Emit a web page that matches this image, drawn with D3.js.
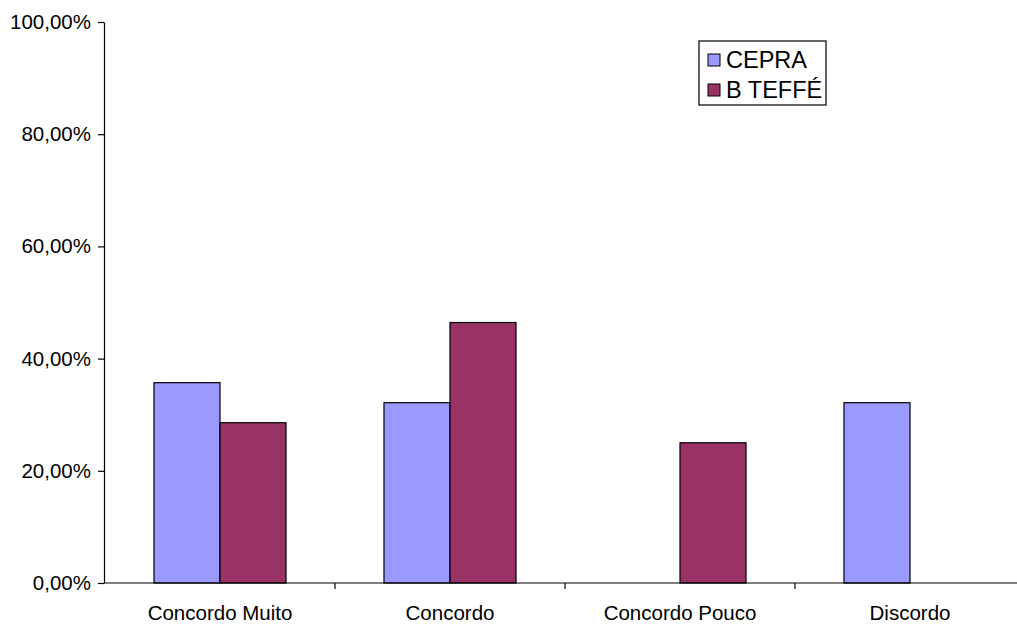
<!DOCTYPE html>
<html>
<head>
<meta charset="utf-8">
<script src="https://cdn.jsdelivr.net/npm/d3@7"></script>
<style>
  html, body { margin: 0; padding: 0; background: #fff; }
  svg { display: block; font-family: "Liberation Sans", Arial, sans-serif; }
</style>
</head>
<body>
<svg id="chart" width="1017" height="625"></svg>
<script>
// Survey answers per school
const categories = ["Concordo Muito", "Concordo", "Concordo Pouco", "Discordo"];
const seriesNames = ["CEPRA", "B TEFFÉ"];
const cepraValues = [0.3571, 0.3214, 0, 0.3214];
const teffeValues = [0.2857, 0.4643, 0.25, 0];
const yTicks = [0, 0.2, 0.4, 0.6, 0.8, 1.0];
const colors = ["#9999FF", "#993366"];

const svg = d3.select("#chart");
const axisX = 104;
const plot = { left: 105, top: 22, bottom: 583, right: 1025 };

const x0 = d3.scaleBand().domain(categories).range([plot.left, plot.right]).padding(0);
const x1 = d3.scaleBand().domain(seriesNames).range([0, x0.bandwidth()]).paddingOuter(0.742).paddingInner(0);
const y = d3.scaleLinear().domain([0, 1]).range([plot.bottom, plot.top]);
const color = d3.scaleOrdinal().domain(seriesNames).range(colors);

const fmt = v => d3.format(".2f")(v * 100).replace(".", ",") + "%";

const rows = categories.map((c, i) => ({
  category: c,
  values: [
    { series: seriesNames[0], value: cepraValues[i] },
    { series: seriesNames[1], value: teffeValues[i] }
  ]
}));

// Bars
const groups = svg.append("g").selectAll("g").data(rows).join("g")
  .attr("transform", d => `translate(${x0(d.category)},0)`);
groups.selectAll("rect").data(d => d.values.filter(v => v.value > 0)).join("rect")
  .attr("x", d => x1(d.series))
  .attr("width", x1.bandwidth())
  .attr("y", d => y(d.value))
  .attr("height", d => y(0) - y(d.value))
  .attr("fill", d => color(d.series))
  .attr("stroke", "#000")
  .attr("stroke-width", 1.2);

// Y axis
const yAxis = svg.append("g")
  .attr("transform", `translate(${axisX},0)`)
  .call(d3.axisLeft(y).tickValues(yTicks).tickFormat(fmt).tickSize(6).tickSizeOuter(0).tickPadding(7));
yAxis.select(".domain").attr("stroke", "#000").attr("stroke-width", 1.2);
yAxis.selectAll(".tick line").attr("stroke", "#000").attr("stroke-width", 1.2);
yAxis.selectAll(".tick text").attr("font-size", 20.5).attr("fill", "#000")
  .attr("font-family", "'Liberation Sans', Arial, sans-serif");

// X axis with ticks between categories
const xAxis = svg.append("g").attr("transform", `translate(0,${plot.bottom})`);
xAxis.append("line")
  .attr("x1", axisX).attr("x2", plot.right)
  .attr("stroke", "#000").attr("stroke-width", 1.2);
xAxis.selectAll("line.sep").data(categories.slice(1)).join("line")
  .attr("class", "sep")
  .attr("x1", d => x0(d)).attr("x2", d => x0(d))
  .attr("y1", 0).attr("y2", 6)
  .attr("stroke", "#000").attr("stroke-width", 1.2);
xAxis.selectAll("text").data(categories).join("text")
  .attr("x", d => x0(d) + x0.bandwidth() / 2)
  .attr("y", 37)
  .attr("text-anchor", "middle")
  .attr("font-size", 20.5)
  .attr("fill", "#000")
  .text(d => d);

// Legend
const legend = svg.append("g").attr("transform", "translate(699,41)");
legend.append("rect")
  .attr("width", 127).attr("height", 64)
  .attr("fill", "#fff").attr("stroke", "#000").attr("stroke-width", 1.2);
const items = legend.selectAll("g").data(seriesNames).join("g")
  .attr("transform", (d, i) => `translate(9,${19 + i * 30})`);
items.append("rect")
  .attr("x", 0).attr("y", -6).attr("width", 12).attr("height", 12)
  .attr("fill", d => color(d)).attr("stroke", "#000").attr("stroke-width", 1);
items.append("text")
  .attr("x", 18).attr("y", 0).attr("dy", "0.36em")
  .attr("font-size", 23.5).attr("fill", "#000")
  .text(d => d);
</script>
</body>
</html>
